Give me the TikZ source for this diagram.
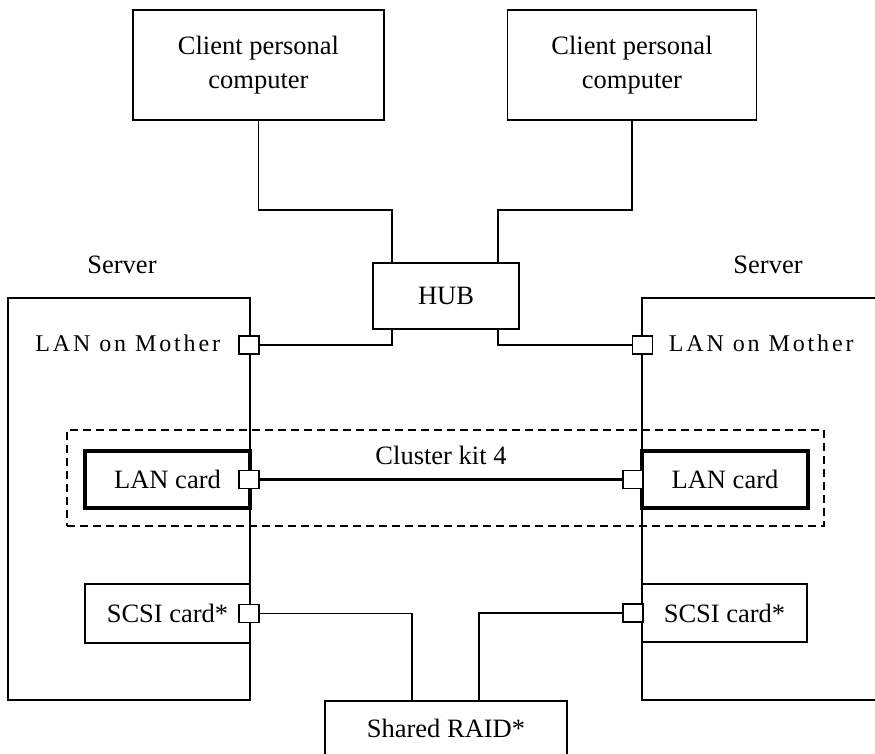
\documentclass[tikz,border=0pt]{standalone}
\usepackage{fontspec}
\setmainfont{Liberation Serif}
\newfontfamily\spacedfont[LetterSpace=12]{Liberation Serif}
\usetikzlibrary{calc}
\begin{document}
\begin{tikzpicture}[x=1pt,y=-1pt,
  line width=1.7pt,
  every node/.style={font=\fontsize{26.5}{34}\selectfont},
  box/.style={draw, line width=1.7pt, inner sep=0pt, align=center},
  cardbox/.style={draw, line width=3.2pt, inner sep=0pt, align=center},
  port/.style={draw, fill=white, line width=1.7pt, minimum width=20pt, minimum height=18pt, inner sep=0pt},
  wire/.style={line width=1.7pt},
  thickwire/.style={line width=2.8pt},
  kitframe/.style={draw, dashed, dash pattern=on 8pt off 5pt, line width=1.8pt},
  motherlabel/.style={font=\spacedfont\fontsize{24}{28}\selectfont, inner sep=0pt}
]
\clip (0,0) rectangle (875,754);
\fill[white] (0,0) rectangle (875,754);

% clients and hub
\node[box, minimum width=251pt, minimum height=110pt] (client1) at (258.5,65) {Client personal\\computer};
\node[box, minimum width=249pt, minimum height=110pt] (client2) at (632,65) {Client personal\\computer};
\node[box, minimum width=146pt, minimum height=66pt] (hub) at (446,296) {HUB};
\coordinate (hubTL) at (392,263);
\coordinate (hubTR) at (498,263);
\coordinate (hubBL) at (392,329);
\coordinate (hubBR) at (498,329);

% server labels
\node[anchor=base] (srvLlabel) at (122,273) {Server};
\node[anchor=base] (srvRlabel) at (768,273) {Server};

% cluster kit frame
\node[kitframe, minimum width=757pt, minimum height=96pt, inner sep=0pt] (kit) at (445.5,478) {};

% left server
\node[box, minimum width=242pt, minimum height=402pt] (serverL) at (129,499) {};
% right server (continues beyond the right edge)
\coordinate (serverRtop) at (642,298);
\coordinate (serverRbot) at (642,700);
\draw[wire] (900,298) -- (serverRtop) -- (serverRbot) -- (900,700);

% cards
\node[cardbox, minimum width=165pt, minimum height=57pt] (lanL) at (167.5,479.5) {LAN card};
\node[cardbox, minimum width=166pt, minimum height=57pt] (lanR) at (725,479.5) {LAN card};
\node[box, minimum width=165pt, minimum height=59pt] (scsiL) at (167.5,613.5) {SCSI card*};
\node[box, minimum width=165pt, minimum height=58pt] (scsiR) at (724.5,613) {SCSI card*};

% shared RAID (extends below the lower edge)
\node[box, minimum width=242pt, minimum height=100pt, anchor=north] (raid) at (446,700) {};
\node[anchor=base] (raidlabel) at (446,737) {Shared RAID*};
\coordinate (raidTL) at (412,700);
\coordinate (raidTR) at (479,700);

% LAN on Mother labels
\node[motherlabel, anchor=base east] (motherL) at (221,351) {LAN on Mother};
\node[motherlabel, anchor=base west] (motherR) at (668,351) {LAN on Mother};

% ports
\node[port] (pML) at (249,345) {};
\node[port] (pMR) at (642.5,345) {};
\node[port] (pLL) at (249,479.5) {};
\node[port] (pLR) at (633,479.5) {};
\node[port] (pSL) at (249,613.5) {};
\node[port] (pSR) at (633,613) {};

% client to hub wiring
\draw[wire] (client1.south) -- ++(0,89) -| (hubTL);
\draw[wire] (client2.south) -- ++(0,89) -| (hubTR);
% hub to servers
\draw[wire] (hubBL) |- (pML.east);
\draw[wire] (hubBR) |- (pMR.west);
% cluster interconnect
\draw[thickwire] (pLL.east) -- (pLR.west);
\node[anchor=base] (kitlabel) at (441,464) {Cluster kit 4};
% SCSI to shared RAID
\draw[wire] (pSL.east) -| (raidTL);
\draw[wire] (pSR.west) -| (raidTR);
\end{tikzpicture}
\end{document}
